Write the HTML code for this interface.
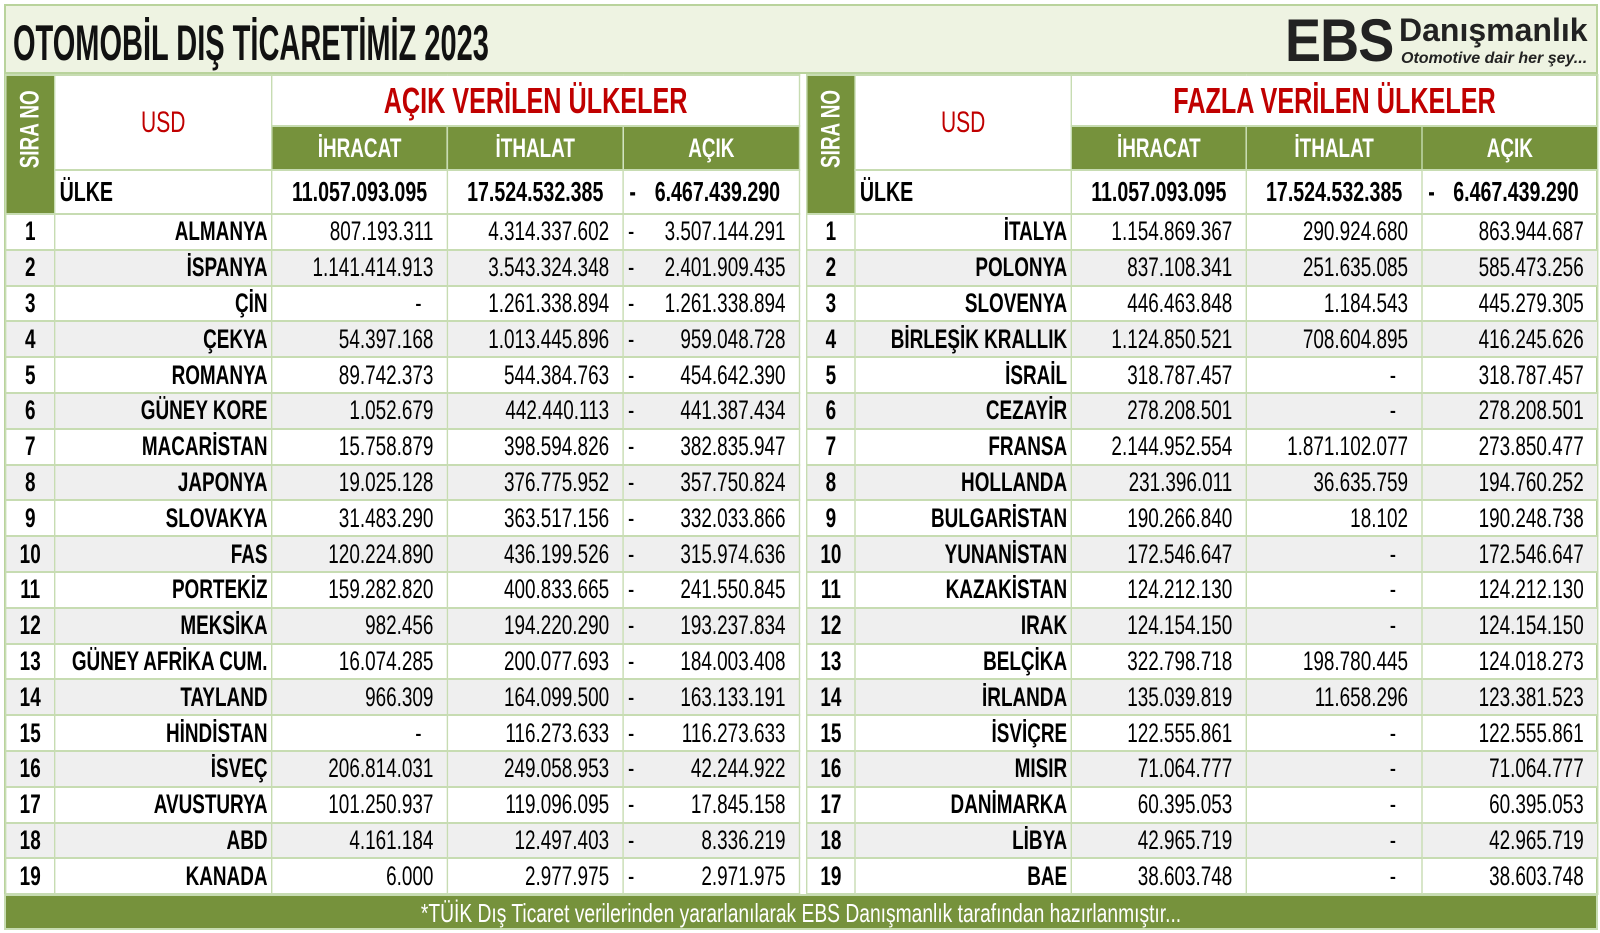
<!DOCTYPE html>
<html><head><meta charset="utf-8">
<style>
*{margin:0;padding:0;box-sizing:border-box}
body{width:1600px;height:933px;background:#fff;position:relative;overflow:hidden;font-family:"Liberation Sans",sans-serif}
#frame{position:absolute;left:4px;top:4px;width:1594px;height:926px;border:2px solid #b9d39c;background:#fff}
#title{position:absolute;left:4px;top:4px;width:1594px;height:70px;background:#eef3e2;border:2px solid #b9d39c}
#title h1{position:absolute;left:7px;top:8px;font-size:50px;font-weight:bold;color:#111;transform:scaleX(0.58);transform-origin:left;white-space:nowrap}
#logo{position:absolute;left:1279px;top:6px;width:315px;height:62px}
#logo .e{position:absolute;left:0;top:-6px;font-weight:bold;font-size:60px;color:#222;letter-spacing:-1px;transform:scaleX(0.9);transform-origin:left}
#logo .d{position:absolute;left:114px;top:0px;font-weight:bold;font-size:32px;color:#222}
#logo .o{position:absolute;left:116px;top:38px;font-weight:bold;font-style:italic;font-size:16px;color:#222;white-space:nowrap}
table{position:absolute;border-collapse:collapse;table-layout:fixed;transform:scaleX(.7);transform-origin:0 0}
td{border:2px solid #c7dcb2;white-space:nowrap;overflow:hidden}
.sira{background:#76923c;color:#fff;font-weight:bold;font-size:27px;text-align:center;padding:0}
.sira div{transform:scaleX(1.43) rotate(-90deg) scaleX(0.7);white-space:nowrap}
.usd{color:#c00000;font-size:30px;text-align:center;vertical-align:middle}
.big{color:#c00000;font-weight:bold;font-size:36px;text-align:center}
.gh{background:#76923c;color:#fff;font-weight:bold;font-size:27px;text-align:center}
.ulke{font-weight:bold;font-size:28px;padding-left:6px}
.tot{font-weight:bold;font-size:28px;text-align:center}
.tot span.m{float:left;padding-left:8px}
tr.r td{height:35.8px;font-size:27px;text-align:right;padding-right:19px}
tr.r:nth-child(odd) td{background:#efefef}
tr.r td.n{text-align:center;font-weight:bold;padding:0}
tr.r td.c{font-weight:bold;padding-right:5px}
tr.r td.a span{float:left;padding-left:6px}
tr.r td.ctr{text-align:right;padding-right:36px}
#foot{position:absolute;left:4px;top:894px;width:1594px;height:36px;background:#76923c;border:2px solid #c7dcb2;overflow:hidden}
#foot div{position:absolute;left:50%;top:2px;color:#fff;font-size:26px;white-space:nowrap;transform:translateX(-50%) scaleX(0.74);line-height:30px}
</style></head><body>
<div id="frame"></div>
<div id="title"><h1>OTOMOBİL DIŞ TİCARETİMİZ 2023</h1>
<div id="logo"><div class="e">EBS</div><div class="d">Danışmanlık</div><div class="o">Otomotive dair her şey...</div></div></div>

<table style="left:5px;top:74px;width:1134px">
<colgroup><col style="width:70px"><col style="width:310px"><col style="width:251px"><col style="width:251px"><col style="width:252px"></colgroup>
<tr style="height:51px"><td class="sira" rowspan="3"><div>SIRA NO</div></td><td class="usd" rowspan="2">USD</td><td class="big" colspan="3">AÇIK VERİLEN ÜLKELER</td></tr>
<tr style="height:44px"><td class="gh">İHRACAT</td><td class="gh">İTHALAT</td><td class="gh">AÇIK</td></tr>
<tr style="height:44px"><td class="ulke">ÜLKE</td><td class="tot">11.057.093.095</td><td class="tot">17.524.532.385</td><td class="tot"><span class="m">-</span>6.467.439.290</td></tr>
<tr class="r"><td class="n">1</td><td class="c">ALMANYA</td><td>807.193.311</td><td>4.314.337.602</td><td class="a"><span>-</span>3.507.144.291</td></tr>
<tr class="r"><td class="n">2</td><td class="c">İSPANYA</td><td>1.141.414.913</td><td>3.543.324.348</td><td class="a"><span>-</span>2.401.909.435</td></tr>
<tr class="r"><td class="n">3</td><td class="c">ÇİN</td><td class="ctr">-</td><td>1.261.338.894</td><td class="a"><span>-</span>1.261.338.894</td></tr>
<tr class="r"><td class="n">4</td><td class="c">ÇEKYA</td><td>54.397.168</td><td>1.013.445.896</td><td class="a"><span>-</span>959.048.728</td></tr>
<tr class="r"><td class="n">5</td><td class="c">ROMANYA</td><td>89.742.373</td><td>544.384.763</td><td class="a"><span>-</span>454.642.390</td></tr>
<tr class="r"><td class="n">6</td><td class="c">GÜNEY KORE</td><td>1.052.679</td><td>442.440.113</td><td class="a"><span>-</span>441.387.434</td></tr>
<tr class="r"><td class="n">7</td><td class="c">MACARİSTAN</td><td>15.758.879</td><td>398.594.826</td><td class="a"><span>-</span>382.835.947</td></tr>
<tr class="r"><td class="n">8</td><td class="c">JAPONYA</td><td>19.025.128</td><td>376.775.952</td><td class="a"><span>-</span>357.750.824</td></tr>
<tr class="r"><td class="n">9</td><td class="c">SLOVAKYA</td><td>31.483.290</td><td>363.517.156</td><td class="a"><span>-</span>332.033.866</td></tr>
<tr class="r"><td class="n">10</td><td class="c">FAS</td><td>120.224.890</td><td>436.199.526</td><td class="a"><span>-</span>315.974.636</td></tr>
<tr class="r"><td class="n">11</td><td class="c">PORTEKİZ</td><td>159.282.820</td><td>400.833.665</td><td class="a"><span>-</span>241.550.845</td></tr>
<tr class="r"><td class="n">12</td><td class="c">MEKSİKA</td><td>982.456</td><td>194.220.290</td><td class="a"><span>-</span>193.237.834</td></tr>
<tr class="r"><td class="n">13</td><td class="c">GÜNEY AFRİKA CUM.</td><td>16.074.285</td><td>200.077.693</td><td class="a"><span>-</span>184.003.408</td></tr>
<tr class="r"><td class="n">14</td><td class="c">TAYLAND</td><td>966.309</td><td>164.099.500</td><td class="a"><span>-</span>163.133.191</td></tr>
<tr class="r"><td class="n">15</td><td class="c">HİNDİSTAN</td><td class="ctr">-</td><td>116.273.633</td><td class="a"><span>-</span>116.273.633</td></tr>
<tr class="r"><td class="n">16</td><td class="c">İSVEÇ</td><td>206.814.031</td><td>249.058.953</td><td class="a"><span>-</span>42.244.922</td></tr>
<tr class="r"><td class="n">17</td><td class="c">AVUSTURYA</td><td>101.250.937</td><td>119.096.095</td><td class="a"><span>-</span>17.845.158</td></tr>
<tr class="r"><td class="n">18</td><td class="c">ABD</td><td>4.161.184</td><td>12.497.403</td><td class="a"><span>-</span>8.336.219</td></tr>
<tr class="r"><td class="n">19</td><td class="c">KANADA</td><td>6.000</td><td>2.977.975</td><td class="a"><span>-</span>2.971.975</td></tr>
</table>

<table style="left:806px;top:74px;width:1130px">
<colgroup><col style="width:69px"><col style="width:309px"><col style="width:250px"><col style="width:251px"><col style="width:251px"></colgroup>
<tr style="height:51px"><td class="sira" rowspan="3"><div>SIRA NO</div></td><td class="usd" rowspan="2">USD</td><td class="big" colspan="3">FAZLA VERİLEN ÜLKELER</td></tr>
<tr style="height:44px"><td class="gh">İHRACAT</td><td class="gh">İTHALAT</td><td class="gh">AÇIK</td></tr>
<tr style="height:44px"><td class="ulke">ÜLKE</td><td class="tot">11.057.093.095</td><td class="tot">17.524.532.385</td><td class="tot"><span class="m">-</span>6.467.439.290</td></tr>
<tr class="r"><td class="n">1</td><td class="c">İTALYA</td><td>1.154.869.367</td><td>290.924.680</td><td>863.944.687</td></tr>
<tr class="r"><td class="n">2</td><td class="c">POLONYA</td><td>837.108.341</td><td>251.635.085</td><td>585.473.256</td></tr>
<tr class="r"><td class="n">3</td><td class="c">SLOVENYA</td><td>446.463.848</td><td>1.184.543</td><td>445.279.305</td></tr>
<tr class="r"><td class="n">4</td><td class="c">BİRLEŞİK KRALLIK</td><td>1.124.850.521</td><td>708.604.895</td><td>416.245.626</td></tr>
<tr class="r"><td class="n">5</td><td class="c">İSRAİL</td><td>318.787.457</td><td class="ctr">-</td><td>318.787.457</td></tr>
<tr class="r"><td class="n">6</td><td class="c">CEZAYİR</td><td>278.208.501</td><td class="ctr">-</td><td>278.208.501</td></tr>
<tr class="r"><td class="n">7</td><td class="c">FRANSA</td><td>2.144.952.554</td><td>1.871.102.077</td><td>273.850.477</td></tr>
<tr class="r"><td class="n">8</td><td class="c">HOLLANDA</td><td>231.396.011</td><td>36.635.759</td><td>194.760.252</td></tr>
<tr class="r"><td class="n">9</td><td class="c">BULGARİSTAN</td><td>190.266.840</td><td>18.102</td><td>190.248.738</td></tr>
<tr class="r"><td class="n">10</td><td class="c">YUNANİSTAN</td><td>172.546.647</td><td class="ctr">-</td><td>172.546.647</td></tr>
<tr class="r"><td class="n">11</td><td class="c">KAZAKİSTAN</td><td>124.212.130</td><td class="ctr">-</td><td>124.212.130</td></tr>
<tr class="r"><td class="n">12</td><td class="c">IRAK</td><td>124.154.150</td><td class="ctr">-</td><td>124.154.150</td></tr>
<tr class="r"><td class="n">13</td><td class="c">BELÇİKA</td><td>322.798.718</td><td>198.780.445</td><td>124.018.273</td></tr>
<tr class="r"><td class="n">14</td><td class="c">İRLANDA</td><td>135.039.819</td><td>11.658.296</td><td>123.381.523</td></tr>
<tr class="r"><td class="n">15</td><td class="c">İSVİÇRE</td><td>122.555.861</td><td class="ctr">-</td><td>122.555.861</td></tr>
<tr class="r"><td class="n">16</td><td class="c">MISIR</td><td>71.064.777</td><td class="ctr">-</td><td>71.064.777</td></tr>
<tr class="r"><td class="n">17</td><td class="c">DANİMARKA</td><td>60.395.053</td><td class="ctr">-</td><td>60.395.053</td></tr>
<tr class="r"><td class="n">18</td><td class="c">LİBYA</td><td>42.965.719</td><td class="ctr">-</td><td>42.965.719</td></tr>
<tr class="r"><td class="n">19</td><td class="c">BAE</td><td>38.603.748</td><td class="ctr">-</td><td>38.603.748</td></tr>
</table>

<div id="foot"><div>*TÜİK Dış Ticaret verilerinden yararlanılarak EBS Danışmanlık tarafından hazırlanmıştır...</div></div>
</body></html>
